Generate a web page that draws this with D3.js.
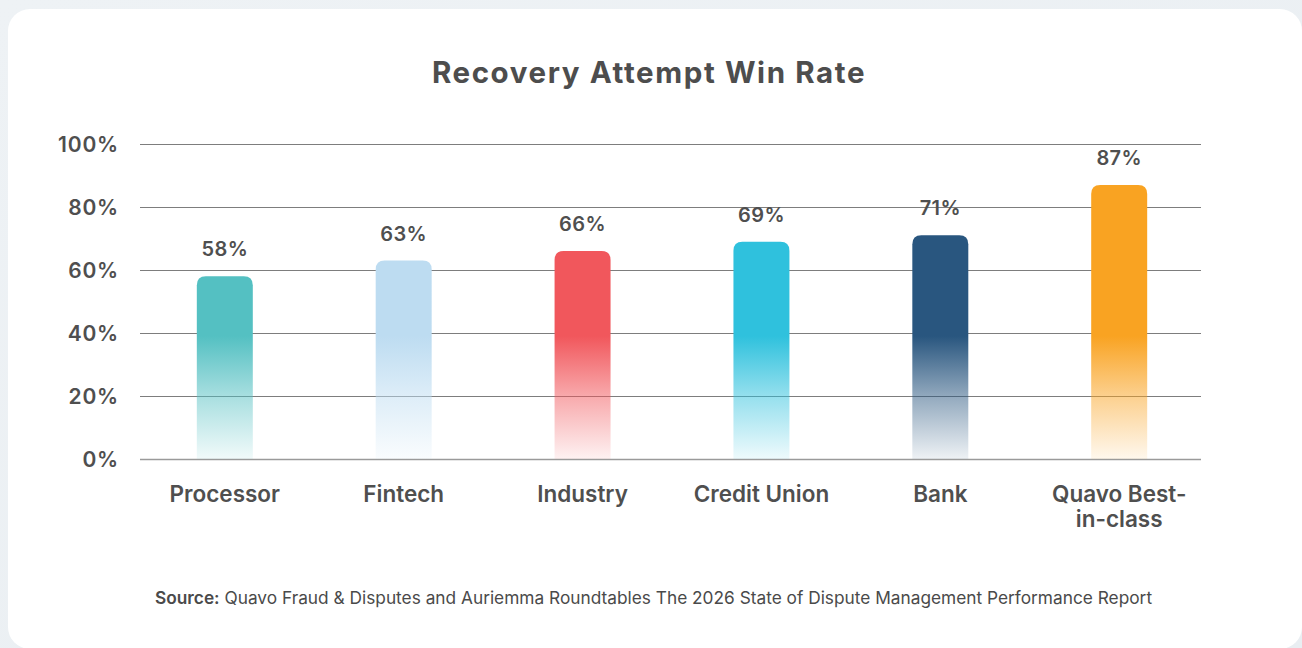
<!DOCTYPE html>
<html>
<head>
<meta charset="utf-8">
<script src="https://cdn.jsdelivr.net/npm/d3@7"></script>
<style>
  html, body { margin: 0; padding: 0; background: #edf1f4; }
  svg { display: block; }
</style>
</head>
<body>
<svg id="chart" width="1302" height="648"></svg>
<script>
const categories = ["Processor", "Fintech", "Industry", "Credit Union", "Bank", "Quavo Best-in-class"];
const categoryLines = [["Processor"], ["Fintech"], ["Industry"], ["Credit Union"], ["Bank"], ["Quavo Best-", "in-class"]];
const values = [58, 63, 66, 69, 71, 87];
const valueLabels = ["58%", "63%", "66%", "69%", "71%", "87%"];
const barColors = ["#54c0c2", "#bddcf1", "#f1575c", "#2fc1dd", "#29567f", "#f9a322"];
const yTicks = [0, 20, 40, 60, 80, 100];
const titleText = "Recovery Attempt Win Rate";
const sourceBold = "Source:";
const sourceText = " Quavo Fraud & Disputes and Auriemma Roundtables The 2026 State of Dispute Management Performance Report";

const svg = d3.select("#chart");
const W = 1302, H = 648;
const font = "Inter, 'Liberation Sans', Arial, sans-serif";
const textColor = "#4f4f4f";

// background gradient + card
const defs = svg.append("defs");
const bg = defs.append("linearGradient").attr("id", "bg").attr("x1", 0).attr("y1", 0).attr("x2", 1).attr("y2", 1);
bg.append("stop").attr("offset", 0).attr("stop-color", "#eef2f5");
bg.append("stop").attr("offset", 1).attr("stop-color", "#e9eef2");
svg.append("rect").attr("width", W).attr("height", H).attr("fill", "url(#bg)");
svg.append("rect").attr("x", 8).attr("y", 9).attr("width", 1294).attr("height", 640)
  .attr("rx", 22).attr("fill", "#ffffff");

// title
svg.append("text").attr("x", 649).attr("y", 83).attr("text-anchor", "middle")
  .attr("font-family", font).attr("font-weight", 700).attr("font-size", 29.5)
  .attr("letter-spacing", 1.6)
  .attr("fill", "#4d4d4d").text(titleText);

const x = d3.scaleBand().domain(categories).range([136, 1208]).paddingInner(0.687).paddingOuter(0.34);
const y = d3.scaleLinear().domain([0, 100]).range([459, 144]);
const gridX0 = 140, gridX1 = 1201;

// y axis with gridlines
const yAxis = d3.axisLeft(y).tickValues(yTicks).tickFormat(d => d + "%")
  .tickSize(-(gridX1 - gridX0)).tickPadding(21);
const gy = svg.append("g").attr("transform", `translate(${gridX0},0)`).call(yAxis);
gy.select(".domain").remove();
gy.selectAll(".tick line").attr("stroke", "#7d7d7d").attr("stroke-width", 1.2);
gy.selectAll(".tick line").filter(d => d === 0).attr("stroke", "#9a9a9a").attr("stroke-width", 1.6);
gy.selectAll(".tick text").attr("font-family", font).attr("font-weight", 600)
  .attr("font-size", 21).attr("letter-spacing", 0.8).attr("fill", textColor).attr("dy", "0.36em");

// bar gradients
barColors.forEach((c, i) => {
  const g = defs.append("linearGradient").attr("id", "grad" + i)
    .attr("gradientUnits", "userSpaceOnUse")
    .attr("x1", 0).attr("x2", 0).attr("y1", y(39)).attr("y2", y(0));
  g.append("stop").attr("offset", 0).attr("stop-color", c).attr("stop-opacity", 1);
  g.append("stop").attr("offset", 0.5).attr("stop-color", c).attr("stop-opacity", 0.5);
  g.append("stop").attr("offset", 1).attr("stop-color", c).attr("stop-opacity", 0.08);
});

// bars with rounded tops
const r = 9;
function barPath(x0, w, yTop, yBot) {
  return `M${x0},${yBot} V${yTop + r} Q${x0},${yTop} ${x0 + r},${yTop} H${x0 + w - r} Q${x0 + w},${yTop} ${x0 + w},${yTop + r} V${yBot} Z`;
}
svg.append("g").selectAll("path").data(values).join("path")
  .attr("d", (d, i) => barPath(x(categories[i]), x.bandwidth(), y(d), y(0)))
  .attr("fill", (d, i) => `url(#grad${i})`);

// value labels
svg.append("g").selectAll("text").data(values).join("text")
  .attr("x", (d, i) => x(categories[i]) + x.bandwidth() / 2)
  .attr("y", d => y(d) - 20)
  .attr("text-anchor", "middle")
  .attr("font-family", font).attr("font-weight", 600).attr("font-size", 20)
  .attr("letter-spacing", 0.4)
  .attr("fill", textColor)
  .text((d, i) => valueLabels[i]);

// category labels
const cat = svg.append("g").selectAll("text").data(categories).join("text")
  .attr("x", d => x(d) + x.bandwidth() / 2)
  .attr("y", 502)
  .attr("text-anchor", "middle")
  .attr("font-family", font).attr("font-weight", 600).attr("font-size", 22.5)
  .attr("fill", textColor);
cat.each(function(d, i) {
  const t = d3.select(this);
  categoryLines[i].forEach((line, j) => {
    t.append("tspan").attr("x", x(d) + x.bandwidth() / 2).attr("dy", j === 0 ? 0 : 25).text(line);
  });
});

// source
const src = svg.append("text").attr("x", 155).attr("y", 604)
  .attr("font-family", font).attr("font-size", 17.3).attr("fill", "#4a4a4a");
src.append("tspan").attr("font-weight", 600).text(sourceBold);
src.append("tspan").text(sourceText);
</script>
</body>
</html>
